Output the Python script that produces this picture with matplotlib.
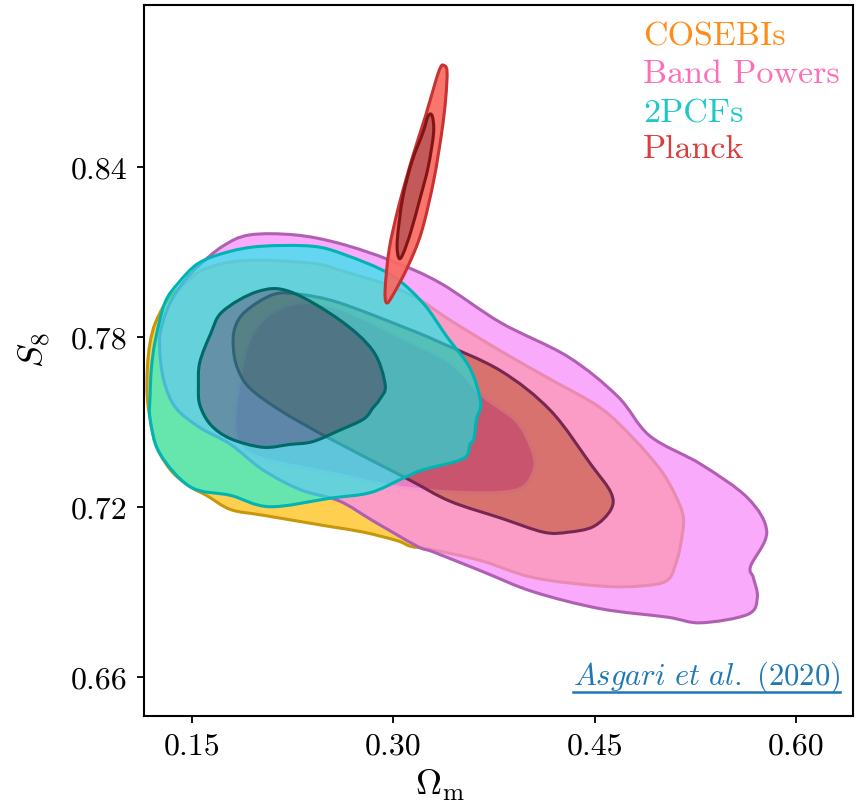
import matplotlib
matplotlib.use("Agg")
import matplotlib.pyplot as plt
from matplotlib.path import Path
from matplotlib.patches import PathPatch
from matplotlib.lines import Line2D
import numpy as np

plt.rcParams["font.family"] = "serif"
plt.rcParams["font.serif"] = ["cmr10", "DejaVu Serif"]
plt.rcParams["mathtext.fontset"] = "cm"
plt.rcParams["axes.formatter.use_mathtext"] = True

# ---- credible-region outlines in the (Omega_m, S8) plane ----
cosebis_2s_om = [0.117, 0.119, 0.123, 0.132, 0.145, 0.160, 0.190, 0.240, 0.264, 0.298, 0.320, 0.342,
                 0.380, 0.417, 0.454, 0.479, 0.499, 0.510, 0.516, 0.514, 0.511, 0.504, 0.484, 0.454,
                 0.404, 0.365, 0.327, 0.313, 0.303, 0.278, 0.253, 0.203, 0.179, 0.161, 0.149, 0.136,
                 0.126, 0.121, 0.117]
cosebis_2s_s8 = [0.769, 0.778, 0.785, 0.793, 0.799, 0.804, 0.807, 0.806, 0.803, 0.798, 0.793, 0.786,
                 0.775, 0.765, 0.755, 0.744, 0.733, 0.724, 0.716, 0.707, 0.701, 0.694, 0.692, 0.692,
                 0.695, 0.701, 0.705, 0.706, 0.708, 0.711, 0.713, 0.717, 0.719, 0.724, 0.727, 0.732,
                 0.739, 0.746, 0.758]
cosebis_1s_om = [0.182, 0.186, 0.193, 0.208, 0.231, 0.260, 0.305, 0.342, 0.367, 0.392, 0.404, 0.404,
                 0.392, 0.355, 0.303, 0.253, 0.203, 0.186]
cosebis_1s_s8 = [0.751, 0.765, 0.779, 0.788, 0.792, 0.790, 0.780, 0.771, 0.759, 0.750, 0.739, 0.732,
                 0.726, 0.725, 0.727, 0.732, 0.737, 0.742]

bandpow_2s_om = [0.126, 0.129, 0.135, 0.145, 0.155, 0.173, 0.193, 0.227, 0.260, 0.298, 0.335, 0.380,
                 0.430, 0.467, 0.491, 0.529, 0.564, 0.578, 0.566, 0.568, 0.571, 0.564, 0.529, 0.504,
                 0.454, 0.404, 0.367, 0.330, 0.318, 0.285, 0.260, 0.231, 0.203, 0.179, 0.156, 0.138,
                 0.129]
bandpow_2s_s8 = [0.778, 0.786, 0.793, 0.800, 0.805, 0.812, 0.816, 0.816, 0.813, 0.807, 0.799, 0.785,
                 0.773, 0.759, 0.745, 0.735, 0.723, 0.711, 0.699, 0.695, 0.688, 0.682, 0.679, 0.681,
                 0.684, 0.690, 0.697, 0.704, 0.706, 0.715, 0.722, 0.726, 0.733, 0.742, 0.748, 0.755,
                 0.765]
bandpow_1s_om = [0.181, 0.182, 0.190, 0.211, 0.231, 0.260, 0.310, 0.335, 0.380, 0.417, 0.447, 0.462,
                 0.462, 0.449, 0.430, 0.412, 0.380, 0.342, 0.310, 0.253, 0.216, 0.193, 0.184]
bandpow_1s_s8 = [0.776, 0.783, 0.789, 0.795, 0.795, 0.792, 0.783, 0.778, 0.768, 0.754, 0.735, 0.725,
                 0.719, 0.713, 0.711, 0.711, 0.716, 0.722, 0.730, 0.744, 0.754, 0.762, 0.769]

pcf_2s_om = [0.119, 0.120, 0.123, 0.130, 0.140, 0.155, 0.177, 0.202, 0.240, 0.264, 0.298, 0.322,
             0.340, 0.357, 0.365, 0.362, 0.360, 0.357, 0.352, 0.322, 0.307, 0.283, 0.253, 0.208,
             0.179, 0.149, 0.126, 0.119]
pcf_2s_s8 = [0.759, 0.769, 0.779, 0.792, 0.799, 0.806, 0.810, 0.812, 0.812, 0.809, 0.802, 0.792,
             0.780, 0.769, 0.757, 0.751, 0.744, 0.742, 0.737, 0.733, 0.730, 0.725, 0.723, 0.720,
             0.724, 0.727, 0.739, 0.751]
pcf_1s_om = [0.155, 0.156, 0.164, 0.173, 0.199, 0.223, 0.260, 0.285, 0.294, 0.290, 0.285, 0.278,
             0.260, 0.240, 0.223, 0.203, 0.179, 0.164, 0.156]
pcf_1s_s8 = [0.763, 0.771, 0.781, 0.789, 0.796, 0.796, 0.786, 0.775, 0.763, 0.758, 0.755, 0.751,
             0.747, 0.743, 0.742, 0.741, 0.744, 0.749, 0.756]

planck_2s_om = [0.337, 0.340, 0.339, 0.336, 0.330, 0.321, 0.311, 0.300, 0.295, 0.294, 0.297, 0.304,
                0.314, 0.324, 0.332, 0.335]
planck_2s_s8 = [0.876, 0.874, 0.864, 0.852, 0.835, 0.817, 0.805, 0.795, 0.792, 0.797, 0.811, 0.826,
                0.843, 0.858, 0.871, 0.875]
planck_1s_om = [0.329, 0.330, 0.326, 0.320, 0.313, 0.307, 0.304, 0.303, 0.307, 0.314, 0.322, 0.326]
planck_1s_s8 = [0.858, 0.852, 0.840, 0.829, 0.817, 0.809, 0.808, 0.814, 0.829, 0.842, 0.852, 0.858]

labels = ["COSEBIs", "Band Powers", "2PCFs", "Planck"]
label_colors = ["#FF8C1A", "#FF6EB4", "#1EC8C8", "#DC3C3C"]

x_ticks = [0.15, 0.30, 0.45, 0.60]
y_ticks = [0.66, 0.72, 0.78, 0.84]

# fill colours, fill alpha and edge colours for the 2-sigma band and the 1-sigma region
styles = [
    (cosebis_2s_om, cosebis_2s_s8, cosebis_1s_om, cosebis_1s_s8,
     "#FFD050", "#CD6C50", 1.0, "#C8960A", "#F0C070"),
    (bandpow_2s_om, bandpow_2s_s8, bandpow_1s_om, bandpow_1s_s8,
     "#F886F8", "#C64B7B", 0.7, "#B060B0", "#782850"),
    (pcf_2s_om, pcf_2s_s8, pcf_1s_om, pcf_1s_s8,
     "#00F5EB", "#008C96", 0.6, "#00B4B4", "#006969"),
    (planck_2s_om, planck_2s_s8, planck_1s_om, planck_1s_s8,
     "#F86A62", "#BE4B4B", 0.92, "#C83232", "#821414"),
]


def ring(xs, ys, ccw=True):
    pts = np.column_stack([xs, ys])
    area = 0.5 * np.sum(pts[:, 0] * np.roll(pts[:, 1], -1) - np.roll(pts[:, 0], -1) * pts[:, 1])
    if (area > 0) != ccw:
        pts = pts[::-1]
    return pts


def smooth_path(rings):
    """Closed Bezier path running through every vertex of each ring."""
    verts, codes = [], []
    for r in rings:
        n = len(r)
        verts.append(r[0])
        codes.append(Path.MOVETO)
        for i in range(n):
            p0, p1, p2, p3 = r[i - 1], r[i], r[(i + 1) % n], r[(i + 2) % n]
            verts.extend([p1 + (p2 - p0) / 6.0, p2 - (p3 - p1) / 6.0, p2])
            codes.extend([Path.CURVE4] * 3)
        verts.append(r[0])
        codes.append(Path.CLOSEPOLY)
    return Path(np.array(verts), codes)


fig = plt.figure(figsize=(8.61, 8.04), dpi=100)
ax = fig.add_axes([0.1676, 0.1086, 0.8228, 0.8839])

z = 1
for ox, oy, ix, iy, c_out, c_in, alpha, e_out, e_in in styles:
    outer = ring(ox, oy, True)
    inner = ring(ix, iy, True)
    band = smooth_path([outer, inner[::-1]])
    ax.add_patch(PathPatch(band, facecolor=c_out, edgecolor="none", alpha=alpha, zorder=z))
    ax.add_patch(PathPatch(smooth_path([inner]), facecolor=c_in, edgecolor="none",
                           alpha=alpha, zorder=z))
    ax.add_patch(PathPatch(smooth_path([outer]), facecolor="none", edgecolor=e_out,
                           lw=2.2, joinstyle="round", zorder=z + 0.5))
    ax.add_patch(PathPatch(smooth_path([inner]), facecolor="none", edgecolor=e_in,
                           lw=2.2, joinstyle="round", zorder=z + 0.5))
    z += 1

ax.set_xlim(0.1147, 0.642)
ax.set_ylim(0.6462, 0.8972)
ax.set_xticks(x_ticks)
ax.set_xticklabels([f"{v:.2f}" for v in x_ticks])
ax.set_yticks(y_ticks)
ax.set_yticklabels([f"{v:.2f}" for v in y_ticks])
ax.tick_params(direction="out", length=5, width=1.3, labelsize=23, pad=7)
for s in ax.spines.values():
    s.set_linewidth(1.5)

fig.text(35 / 861, 1 - 350 / 804, r"$S_8$", fontsize=26, rotation=90, ha="center", va="center")
fig.text(440 / 861, 1 - 785 / 804, r"$\Omega_{\rm m}$", fontsize=26, ha="center", va="center")

ys = [0.9451, 0.8916, 0.8368, 0.7861]
for lab, col, yy in zip(labels, label_colors, ys):
    ax.text(0.7036, yy, lab, color=col, fontsize=24.5, transform=ax.transAxes,
            ha="left", va="baseline", zorder=10)

cite = ax.text(0.982, 0.045, r"$\mathit{Asgari\ et\ al.\ (2020)}$", color="#1F78B4",
               fontsize=22, transform=ax.transAxes, ha="right", va="baseline", zorder=10)

fig.canvas.draw()
bb = cite.get_window_extent(fig.canvas.get_renderer())
inv = fig.transFigure.inverted()
(x0, y0), (x1, _) = inv.transform([(bb.x0, bb.y0 + 2), (bb.x1, bb.y0 + 2)])
fig.add_artist(Line2D([x0, x1], [y0, y0], color="#1F78B4", lw=1.8, transform=fig.transFigure))

fig.savefig("out.png", dpi=100)
